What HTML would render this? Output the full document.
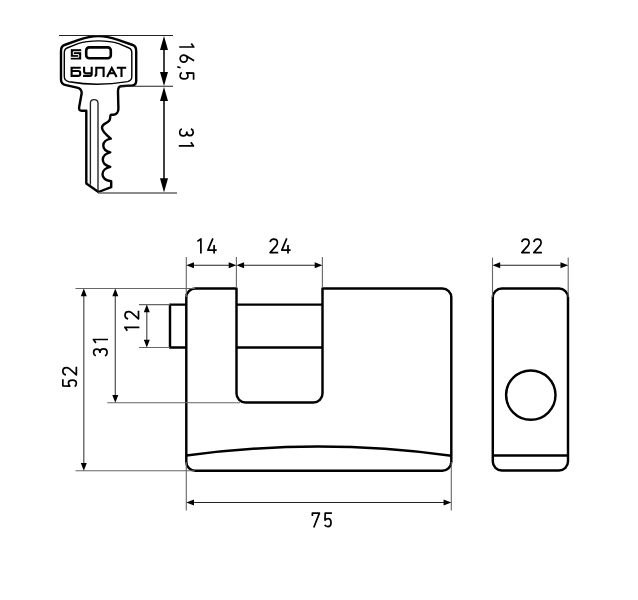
<!DOCTYPE html>
<html><head><meta charset="utf-8">
<style>
html,body{margin:0;padding:0;background:#fff;width:638px;height:600px;overflow:hidden}
svg{display:block}
</style></head><body>
<svg width="638" height="600" viewBox="0 0 638 600">
<!-- ===== KEY ===== -->
<g fill="none" stroke="#000" stroke-linejoin="round">
 <path stroke-width="2.4" d="M81.7,93 C81.7,90 80.2,88.3 77,87.6 L66,85.2 C62.8,84.5 61,83 61,79.5 L61,51 C61,47.5 62,45.8 64.5,45 L78,40.2 C85,37.7 92,36.1 98.4,36.1 C104.8,36.1 111.8,37.7 118.8,40.2 L132.7,45 C135.2,45.8 136.2,47.5 136.2,51 L136.2,81 C136.2,83.6 135,85.1 132.3,85.4 L121,86.3 C118.8,86.5 118,88.5 118,91.5 L118.4,108.5 C118.5,112 116.5,114.8 113,114.8 L111.5,114.8 C110.5,114.8 110.2,116 110.2,117.5 C110.2,120 108.5,122 105.5,123.4 C103,124.6 102,125.8 102,127.8 C102,131.5 107,135.5 110.8,138.7 C106.5,139.6 103.3,141.8 103.3,145.5 C103.3,149.2 106.3,151.4 110.3,152.3 C106.3,153.2 102.8,155.9 102.8,159.6 C102.8,163.3 106.3,165.9 110.3,166.8 C106.3,167.7 102.5,170.5 102.5,174.2 C102.5,178 106.5,180.5 111.2,181.3 L111.2,187.2 L98.5,192 L86.3,183.5 L86.3,110.8 L81.6,110.8 C79.6,110.8 78.9,109.5 79.1,107.5 Z"/>
 <path stroke-width="1.4" d="M64.3,76.5 C64.3,79.6 65.8,81 69,81.7 C80,83.6 90,84.2 97,84.2 C108,84.2 119,83 127.5,81.6 C130.6,81 131.8,79.6 131.8,76.5 L131.8,53 C131.8,50 131,48.6 129,48 L118.8,43.7 C111.8,41.4 104.8,40.9 98.4,40.9 C92,40.9 85,41.4 78,43.7 L67,48 C65,48.6 64.3,50 64.3,53 Z"/>
 <path stroke="#222" stroke-width="1.35" d="M90.4,184.8 L90.4,103.2 C90.4,101 92,99.6 94,99.6 C96.2,99.6 98,101 98,103.2 L98,191.5"/>
 <rect x="86.2" y="47.4" width="24.6" height="10.8" rx="3" stroke-width="2.6"/>
</g>
<rect x="70.8" y="49.2" width="10.4" height="10.3" fill="#000"/>
<path d="M81.5,51.7H73.3V54.6H78.7V57.3H70.5" fill="none" stroke="#fff" stroke-width="1.0"/>
<g fill="none" stroke="#000" stroke-width="2.1">
 <path d="M80.7,67.8H71.6V75.9H78.2C79.5,75.9 80.2,75.2 80.2,74V72.9C80.2,71.7 79.5,71 78.2,71H71.6"/>
 <path d="M84.1,66.8V71.3C84.1,72.6 84.8,73.2 86,73.2H91.7M91.7,66.8V74C91.7,75.2 91,75.9 89.8,75.9H83.1"/>
 <path d="M94.6,75.9C95.8,75.9 96.3,75 96.3,73.8V67.8H103.6V76.9"/>
 <path d="M107.1,76.9L111.8,68L116.6,76.9M108.8,73.2H114.8"/>
 <path d="M116.8,67.8H126.2M121.5,67.8V76.9"/>
</g>
<g stroke="#222" stroke-width="1.1" fill="none">
 <path d="M59,35.5H173M120,86.3H173"/>
 <path stroke="#666" stroke-width="1.5" d="M98,192.9H177"/>
 <path stroke="#000" stroke-width="1.5" d="M164,45V77M164,96V182"/>
</g>
<g fill="#000">
 <path d="M164,36L160,50H168z"/>
 <path d="M164,86L160,72H168z"/>
 <path d="M164,87L160,101H168z"/>
 <path d="M164,192.6L160,178.3H168z"/>
</g>

<!-- ===== LOCK FRONT ===== -->
<g fill="none" stroke="#000" stroke-width="2.45" stroke-linejoin="round">
 <path d="M186.3,297.5A9,9 0 0 1 195.3,288.5H236.5V393.5A9,9 0 0 0 245.5,402.5H313.5A9,9 0 0 0 322.5,393.5V288.5H442.3A9,9 0 0 1 451.3,297.5V461.8A9,9 0 0 1 442.3,470.8H195.3A9,9 0 0 1 186.3,461.8Z"/>
 <path d="M236.5,304.6H322.5M236.5,347.5H322.5"/>
 <path d="M186.3,304.6H170V347.5H186.3"/>
 <path d="M186.3,455.5Q318.8,437.5 451.3,455.7"/>
</g>
<g fill="none" stroke="#000" stroke-width="2.45">
 <rect x="492.8" y="288.5" width="75.2" height="182" rx="9"/>
 <path d="M492.8,455.5H568"/>
 <circle cx="530.8" cy="395.1" r="24.7"/>
</g>
<g stroke="#666" stroke-width="1.1" fill="none">
 <path d="M186.3,257V297M236.4,257V288M322.4,257V288M492.5,257.4V297M568.2,257.4V297"/>
 <path d="M186.3,462V510.5M451.3,462V510.5"/>
 <path d="M75.5,288.5H195M75.5,470.8H195M107.3,402.7H240M139,304.6H170M139,347.5H170"/>
</g>
<g stroke="#222" stroke-width="1.1" fill="none">
 <path d="M194,265.3H229M244,265.3H315M500,265.3H561M194,502.5H444"/>
 <path stroke="#555" stroke-width="1.25" d="M83.8,296V463M115.3,296V395M146.8,312V340"/>
</g>
<g fill="#000">
 <path d="M186.3,265.3L194,262.3V268.3z M236.4,265.3L228.7,262.3V268.3z M236.4,265.3L244.1,262.3V268.3z M322.4,265.3L314.7,262.3V268.3z"/>
 <path d="M492.5,265.3L500.2,262.3V268.3z M568.2,265.3L560.5,262.3V268.3z"/>
 <path d="M186.3,502.5L194,499.5V505.5z M451.3,502.5L443.6,499.5V505.5z"/>
 <path d="M83.8,288.5L80.8,296.2H86.8z M83.8,470.8L80.8,463.1H86.8z"/>
 <path d="M115.3,288.5L112.3,296.2H118.3z M115.3,402.7L112.3,395H118.3z"/>
 <path d="M146.8,304.6L143.8,312.3H149.8z M146.8,347.5L143.8,339.8H149.8z"/>
</g>

<g fill="none" stroke="#000" stroke-linecap="butt" stroke-linejoin="round">
<path transform="translate(196.70,253.50)" d="M0.7,-12.1L4.2,-14.5M4.2,-15.3V0" stroke-width="1.7"/>
<path transform="translate(207.00,253.50)" d="M5.9,-15.2L0.9,-3.4H9.7M7.1,-8.4V0" stroke-width="1.7"/>
<path transform="translate(269.20,253.50)" d="M0.9,-11.3C1.2,-13.2 2.7,-14.4 4.6,-14.4C6.7,-14.4 8.2,-12.9 8.2,-10.8C8.2,-9.6 7.7,-8.6 6.9,-7.6L0.9,-0.9H9.0" stroke-width="1.7"/>
<path transform="translate(280.90,253.50)" d="M5.9,-15.2L0.9,-3.4H9.7M7.1,-8.4V0" stroke-width="1.7"/>
<path transform="translate(520.90,253.50)" d="M0.9,-11.3C1.2,-13.2 2.7,-14.4 4.6,-14.4C6.7,-14.4 8.2,-12.9 8.2,-10.8C8.2,-9.6 7.7,-8.6 6.9,-7.6L0.9,-0.9H9.0" stroke-width="1.7"/>
<path transform="translate(532.90,253.50)" d="M0.9,-11.3C1.2,-13.2 2.7,-14.4 4.6,-14.4C6.7,-14.4 8.2,-12.9 8.2,-10.8C8.2,-9.6 7.7,-8.6 6.9,-7.6L0.9,-0.9H9.0" stroke-width="1.7"/>
<path transform="translate(311.50,527.50)" d="M0.9,-11.6V-14.4H7.9L2.3,0" stroke-width="1.7"/>
<path transform="translate(323.90,527.50)" d="M8.0,-14.4H1.3L1.1,-7.4C1.9,-8.3 3,-8.8 4.2,-8.8C6.4,-8.8 7.1,-7.2 7.1,-4.8C7.1,-2.2 5.8,-0.9 4,-0.9C2.6,-0.9 1.4,-1.5 0.8,-2.6" stroke-width="1.7"/>
<path transform="translate(77.25,387.20) rotate(-90)" d="M8.0,-14.4H1.3L1.1,-7.4C1.9,-8.3 3,-8.8 4.2,-8.8C6.4,-8.8 7.1,-7.2 7.1,-4.8C7.1,-2.2 5.8,-0.9 4,-0.9C2.6,-0.9 1.4,-1.5 0.8,-2.6" stroke-width="1.7"/>
<path transform="translate(77.25,375.75) rotate(-90)" d="M0.9,-11.3C1.2,-13.2 2.7,-14.4 4.6,-14.4C6.7,-14.4 8.2,-12.9 8.2,-10.8C8.2,-9.6 7.7,-8.6 6.9,-7.6L0.9,-0.9H9.0" stroke-width="1.7"/>
<path transform="translate(108.00,356.70) rotate(-90)" d="M0.9,-12.2C1.5,-13.7 2.8,-14.4 4.3,-14.4C6.3,-14.4 7.6,-13.1 7.6,-11.2C7.6,-9.3 6.3,-8 4.3,-8H3.6M4.3,-8C6.6,-8 7.9,-6.5 7.9,-4.4C7.9,-2.2 6.5,-0.9 4.3,-0.9C2.7,-0.9 1.4,-1.6 0.8,-3" stroke-width="1.7"/>
<path transform="translate(108.00,343.70) rotate(-90)" d="M0.7,-12.1L4.2,-14.5M4.2,-15.3V0" stroke-width="1.7"/>
<path transform="translate(139.40,331.50) rotate(-90)" d="M0.7,-12.1L4.2,-14.5M4.2,-15.3V0" stroke-width="1.7"/>
<path transform="translate(139.40,319.75) rotate(-90)" d="M0.9,-11.3C1.2,-13.2 2.7,-14.4 4.6,-14.4C6.7,-14.4 8.2,-12.9 8.2,-10.8C8.2,-9.6 7.7,-8.6 6.9,-7.6L0.9,-0.9H9.0" stroke-width="1.7"/>
<path transform="translate(179.20,42.80) rotate(90)" d="M0.7,-12.1L4.2,-14.5M4.2,-15.3V0" stroke-width="1.7"/>
<path transform="translate(179.20,54.20) rotate(90)" d="M6.6,-14.9L1.36,-6.33M4.4,-0.95A3.55,3.55 0 1 1 4.4,-8.05A3.55,3.55 0 1 1 4.4,-0.95" stroke-width="1.7"/>
<path transform="translate(179.20,66.20) rotate(90)" d="M1.6,-1.3L0.5,2.0" stroke-width="1.6"/>
<path transform="translate(179.20,71.80) rotate(90)" d="M8.0,-14.4H1.3L1.1,-7.4C1.9,-8.3 3,-8.8 4.2,-8.8C6.4,-8.8 7.1,-7.2 7.1,-4.8C7.1,-2.2 5.8,-0.9 4,-0.9C2.6,-0.9 1.4,-1.5 0.8,-2.6" stroke-width="1.7"/>
<path transform="translate(178.80,128.00) rotate(90)" d="M0.9,-12.2C1.5,-13.7 2.8,-14.4 4.3,-14.4C6.3,-14.4 7.6,-13.1 7.6,-11.2C7.6,-9.3 6.3,-8 4.3,-8H3.6M4.3,-8C6.6,-8 7.9,-6.5 7.9,-4.4C7.9,-2.2 6.5,-0.9 4.3,-0.9C2.7,-0.9 1.4,-1.6 0.8,-3" stroke-width="1.7"/>
<path transform="translate(178.80,141.60) rotate(90)" d="M0.7,-12.1L4.2,-14.5M4.2,-15.3V0" stroke-width="1.7"/>
</g>
</svg>
</body></html>
